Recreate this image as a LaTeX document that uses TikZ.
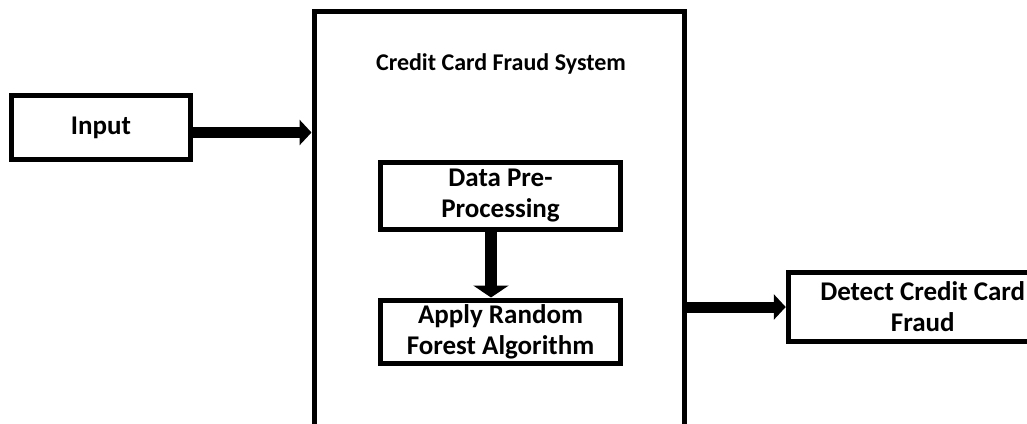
\documentclass[tikz,border=0pt]{standalone}
\usepackage{fontspec}
\setmainfont{Carlito}
\usetikzlibrary{arrows.meta}
\begin{document}
\begin{tikzpicture}[x=1pt,y=-1pt,
  blk/.style={draw=black,line width=5pt,inner sep=0pt,align=center,
    font=\fontsize{27}{31}\selectfont\bfseries},
  bigarrow/.style={line width=11pt,-{Triangle[width=25pt,length=12pt]}},
  downarrow/.style={line width=12pt,-{Triangle[width=35pt,length=12pt]}}]
\useasboundingbox[fill=white] (0,0) rectangle (1027,423);
\node[blk,minimum width=370pt,minimum height=429pt] (sys) at (499,225.5) {};
\node[font=\fontsize{24}{28}\selectfont\bfseries] (title) at (501,64) {Credit Card Fraud System};
\node[blk,minimum width=179pt,minimum height=64pt] (input) at (101,127.5) {Input};
\node[blk,minimum width=240pt,minimum height=67pt] (data) at (500.5,196) {Data Pre-\\Processing};
\node[blk,minimum width=240pt,minimum height=63pt] (apply) at (500.5,331.5) {Apply Random\\Forest Algorithm};
\node[blk,minimum width=269pt,minimum height=69pt] (detect) at (922.75,307) {Detect Credit Card\\Fraud};
\draw[bigarrow] ([yshift=-5pt]input.east) -- ([yshift=-5pt]input.east -| sys.west);
\draw[downarrow] ([xshift=-9.5pt]data.south) -- ([xshift=-9.5pt]apply.north);
\draw[bigarrow] (sys.east |- detect.west) -- (detect.west);
\end{tikzpicture}
\end{document}
